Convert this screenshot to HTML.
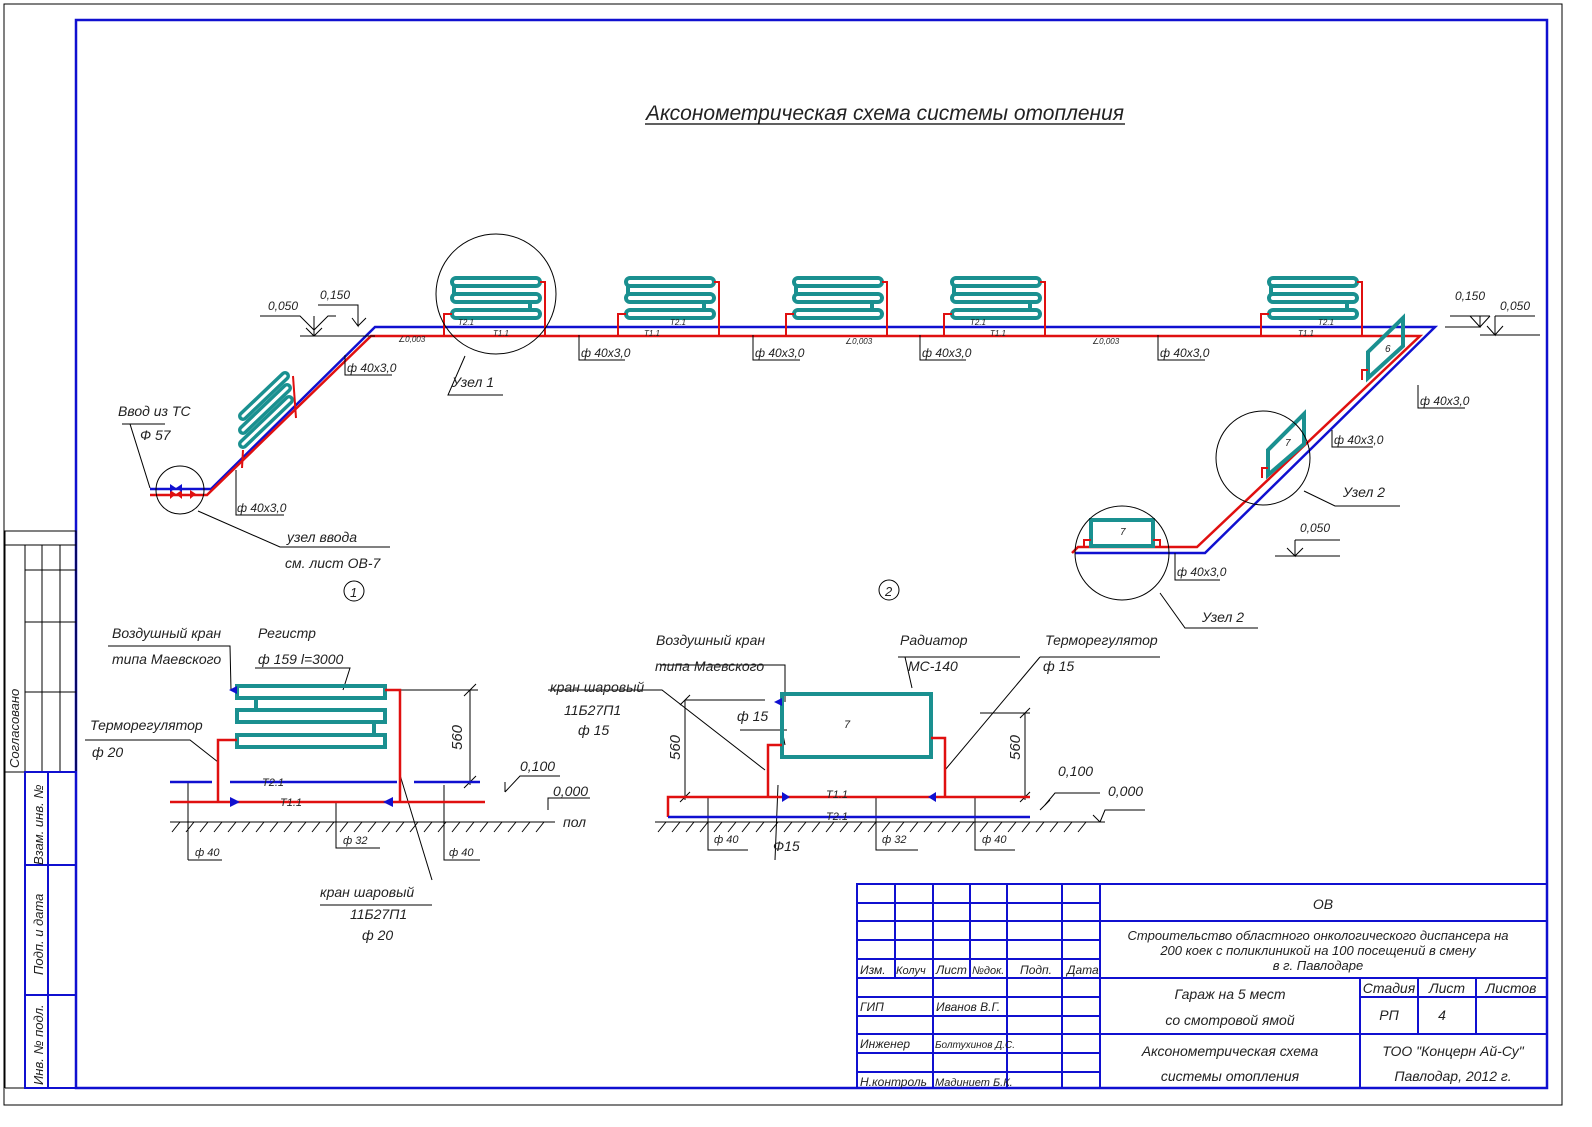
<!DOCTYPE html>
<html><head><meta charset="utf-8"><style>
html,body{margin:0;padding:0;background:#fff}
svg{display:block}
text{font-family:"Liberation Sans","DejaVu Sans",sans-serif;font-style:italic;fill:#222}
</style></head><body>
<svg width="1592" height="1127" viewBox="0 0 1592 1127" xmlns="http://www.w3.org/2000/svg">
<rect x="0" y="0" width="1592" height="1127" fill="#fff"/>
<rect x="4" y="4" width="1558" height="1101" fill="none" stroke="#000" stroke-width="1"/>
<rect x="76" y="20" width="1471" height="1068" fill="none" stroke="#1010d0" stroke-width="2.5"/>
<g stroke="#000" stroke-width="1" fill="none">
<rect x="5" y="531" width="71" height="241"/>
<line x1="25" y1="545" x2="25" y2="772"/><line x1="42" y1="545" x2="42" y2="772"/><line x1="60" y1="545" x2="60" y2="772"/>
<line x1="5" y1="545" x2="76" y2="545"/>
<line x1="25" y1="570" x2="76" y2="570"/><line x1="25" y1="622" x2="76" y2="622"/><line x1="25" y1="692" x2="76" y2="692"/>
<line x1="5" y1="772" x2="5" y2="1088"/><line x1="5" y1="1088" x2="25" y2="1088"/>
</g>
<g stroke="#1010d0" stroke-width="2" fill="none">
<rect x="25" y="772" width="51" height="316"/>
<line x1="48" y1="772" x2="48" y2="1088"/>
<line x1="25" y1="865" x2="76" y2="865"/><line x1="25" y1="995" x2="76" y2="995"/>
</g>
<text transform="translate(19,768) rotate(-90)" font-size="13">Согласовано</text>
<text transform="translate(43,865) rotate(-90)" font-size="13">Взам. инв. №</text>
<text transform="translate(43,975) rotate(-90)" font-size="13">Подп. и дата</text>
<text transform="translate(43,1085) rotate(-90)" font-size="13">Инв. № подл.</text>

<text x="885" y="120" font-size="21" text-anchor="middle" textLength="478" lengthAdjust="spacingAndGlyphs">Аксонометрическая схема системы отопления</text>
<line x1="645" y1="124" x2="1125" y2="124" stroke="#000" stroke-width="1.2"/>

<g fill="none" stroke-width="2.5">
<polyline stroke="#1010d0" points="150,489 211,489 375,327 1435,327 1205,553 1075,553"/>
<polyline stroke="#e01010" points="150,495 207,495 371,336 1420,336 1197,547 1078,547 1072,553"/>
</g>
<g fill="none" stroke="#1a9090" stroke-width="4">
<g id="reg">
<rect x="452" y="278" width="88" height="8" rx="4"/>
<rect x="452" y="294" width="88" height="8" rx="4"/>
<rect x="452" y="310" width="88" height="8" rx="4"/>
<line x1="454" y1="286" x2="454" y2="294"/><line x1="530" y1="302" x2="530" y2="310"/>
</g>
<use href="#reg" x="174"/><use href="#reg" x="342"/><use href="#reg" x="500"/><use href="#reg" x="817"/>
</g>
<g fill="none" stroke="#e01010" stroke-width="2">
<polyline points="540,282 545,282 545,336"/><polyline points="452,314 444,314 444,336"/>
<polyline points="714,282 719,282 719,336"/><polyline points="626,314 618,314 618,336"/>
<polyline points="882,282 887,282 887,336"/><polyline points="794,314 786,314 786,336"/>
<polyline points="1040,282 1045,282 1045,336"/><polyline points="952,314 944,314 944,336"/>
<polyline points="1357,282 1362,282 1362,336"/><polyline points="1269,314 1261,314 1261,336"/>
</g>
<!-- diagonal register left -->
<g fill="none" stroke-linecap="round">
<g stroke="#1a9090" stroke-width="10">
<line x1="243" y1="416" x2="285" y2="376"/><line x1="243" y1="430" x2="287" y2="388"/><line x1="243" y1="444" x2="289" y2="400"/>
</g>
<g stroke="#fff" stroke-width="3">
<line x1="243" y1="416" x2="285" y2="376"/><line x1="243" y1="430" x2="287" y2="388"/><line x1="243" y1="444" x2="289" y2="400"/>
</g>
</g>
<polyline points="293,376 296,418" fill="none" stroke="#e01010" stroke-width="2"/>
<polyline points="243,450 242,468" fill="none" stroke="#e01010" stroke-width="2"/>
<g fill="none" stroke="#1a9090" stroke-width="4">
<polygon points="1368,352 1403,318 1403,346 1368,378"/>
<polygon points="1268,450 1304,414 1304,444 1268,475"/>
<rect x="1091" y="520" width="62" height="26"/>
</g>
<g fill="none" stroke="#e01010" stroke-width="2">
<polyline points="1368,370 1362,370 1362,380"/><polyline points="1268,468 1262,468 1262,478"/>
<polyline points="1091,540 1084,540 1084,547"/><polyline points="1153,540 1160,540 1160,547"/>
</g>
<text x="1385" y="352" font-size="10">6</text><text x="1285" y="446" font-size="10">7</text><text x="1120" y="535" font-size="10">7</text>
<g fill="none" stroke="#000" stroke-width="1">
<circle cx="496" cy="294" r="60"/><circle cx="180" cy="490" r="24"/>
<circle cx="1263" cy="458" r="47"/><circle cx="1122" cy="553" r="47"/>
<circle cx="354" cy="591" r="10"/><circle cx="889" cy="590" r="10"/>
</g>
<text x="350" y="597" font-size="13">1</text><text x="885" y="596" font-size="13">2</text>
<g fill="#e01010"><polygon points="170,490 176,494 170,499"/><polygon points="182,490 176,494 182,499"/><polygon points="190,490 196,494 190,499"/></g>
<g fill="#1010d0"><polygon points="170,484 176,488 170,492"/><polygon points="182,484 176,488 182,492"/></g>

<g fill="none" stroke="#000" stroke-width="1">
<polyline points="260,316 300,316 314,330 328,316 336,316"/>
<line x1="300" y1="336" x2="375" y2="336"/>
<polyline points="318,305 358,305 358,326 352,318 358,326 366,318"/>
<line x1="314" y1="316" x2="314" y2="336"/><line x1="306" y1="328" x2="314" y2="336"/><line x1="322" y1="328" x2="314" y2="336"/>
<polyline points="345,355 345,375 392,375"/>
<polyline points="236,470 236,515 284,515"/>
<polyline points="579,335 579,360 625,360"/><polyline points="753,335 753,360 800,360"/>
<polyline points="920,335 920,360 966,360"/><polyline points="1158,335 1158,360 1205,360"/>
<polyline points="1418,385 1418,408 1465,408"/><polyline points="1332,430 1332,447 1373,447"/>
<polyline points="1175,553 1175,580 1220,580"/>
<polyline points="465,356 448,395 503,395"/>
<polyline points="122,424 165,424"/><polyline points="130,424 150,488"/>
<polyline points="198,511 280,547 390,547"/>
<polyline points="1304,491 1335,506 1400,506"/>
<polyline points="1160,593 1185,628 1258,628"/>
<polyline points="1450,316 1490,316"/><polyline points="1445,327 1480,327 1470,316 1480,327 1490,316"/>
<polyline points="1495,316 1535,316"/><polyline points="1480,335 1540,335"/>
<polyline points="1495,316 1495,335 1487,326 1495,335 1503,326"/>
<polyline points="1480,316 1480,327"/>
<polyline points="1275,556 1340,556"/><polyline points="1295,540 1295,556 1287,548 1295,556 1303,548"/><polyline points="1295,540 1340,540"/>
</g>
<g font-size="12">
<text x="268" y="310">0,050</text><text x="320" y="299">0,150</text>
<text x="347" y="372">ф 40x3,0</text><text x="237" y="512">ф 40x3,0</text>
<text x="581" y="357">ф 40x3,0</text><text x="755" y="357">ф 40x3,0</text>
<text x="922" y="357">ф 40x3,0</text><text x="1160" y="357">ф 40x3,0</text>
<text x="1420" y="405">ф 40x3,0</text><text x="1334" y="444">ф 40x3,0</text>
<text x="1177" y="576">ф 40x3,0</text>
<text x="1455" y="300">0,150</text><text x="1500" y="310">0,050</text>
<text x="1300" y="532">0,050</text>
</g>
<g font-size="14">
<text x="118" y="416">Ввод из ТС</text><text x="140" y="440">Ф 57</text>
<text x="452" y="387">Узел 1</text>
<text x="287" y="542">узел ввода</text><text x="285" y="568">см. лист ОВ-7</text>
<text x="1343" y="497">Узел 2</text><text x="1202" y="622">Узел 2</text>
</g>
<g font-size="8">
<text x="458" y="325">Т2.1</text><text x="493" y="336">Т1.1</text>
<text x="644" y="336">Т1.1</text><text x="670" y="325">Т2.1</text>
<text x="970" y="325">Т2.1</text><text x="990" y="336">Т1.1</text>
<text x="1318" y="325">Т2.1</text><text x="1298" y="336">Т1.1</text>
<text x="398" y="342">∠0,003</text><text x="845" y="344">∠0,003</text><text x="1092" y="344">∠0,003</text>
</g>

<g fill="none" stroke="#000" stroke-width="1">
<line x1="170" y1="822" x2="555" y2="822"/>
<path d="M172,832 l8,-10 M186,832 l8,-10 M200,832 l8,-10 M214,832 l8,-10 M228,832 l8,-10 M242,832 l8,-10 M256,832 l8,-10 M270,832 l8,-10 M284,832 l8,-10 M298,832 l8,-10 M312,832 l8,-10 M326,832 l8,-10 M340,832 l8,-10 M354,832 l8,-10 M368,832 l8,-10 M382,832 l8,-10 M396,832 l8,-10 M410,832 l8,-10 M424,832 l8,-10 M438,832 l8,-10 M452,832 l8,-10 M466,832 l8,-10 M480,832 l8,-10 M494,832 l8,-10 M508,832 l8,-10 M522,832 l8,-10 M536,832 l8,-10"/>
<polyline points="108,646 230,646 231,690"/><polyline points="255,668 350,668 343,690"/>
<polyline points="85,740 190,740 218,762"/>
<polyline points="385,690 478,690"/><line x1="470" y1="690" x2="470" y2="785"/>
<line x1="464" y1="696" x2="476" y2="684"/><line x1="464" y1="788" x2="476" y2="776"/>
<polyline points="505,792 520,776 560,776"/><line x1="505" y1="792" x2="505" y2="782"/>
<polyline points="548,810 548,798 590,798"/>
<line x1="188" y1="782" x2="188" y2="860"/><line x1="188" y1="860" x2="222" y2="860"/>
<polyline points="336,802 336,848 380,848"/><polyline points="444,785 444,860 480,860"/>
<line x1="400" y1="775" x2="432" y2="880"/><line x1="320" y1="905" x2="432" y2="905"/>
</g>
<g fill="none" stroke="#1a9090" stroke-width="4">
<rect x="237" y="686" width="148" height="12"/><rect x="237" y="710" width="148" height="12"/><rect x="237" y="735" width="148" height="12"/>
<line x1="256" y1="698" x2="256" y2="710"/><line x1="374" y1="722" x2="374" y2="735"/>
</g>
<g fill="none" stroke-width="2.5">
<path d="M170,782 H212 M230,782 H397 M414,782 H480" stroke="#1010d0"/>
<path d="M170,802 H485" stroke="#e01010"/>
<polyline stroke="#e01010" points="385,690 400,690 400,802"/>
<polyline stroke="#e01010" points="237,740 218,740 218,802"/>
</g>
<polygon points="230,797 240,802 230,807" fill="#1010d0"/><polygon points="393,797 383,802 393,807" fill="#1010d0"/>
<polygon points="237,686 229,690 237,694" fill="#1010d0"/>
<g font-size="14">
<text x="112" y="638">Воздушный кран</text><text x="112" y="664">типа Маевского</text>
<text x="258" y="638">Регистр</text><text x="258" y="664">ф 159 l=3000</text>
<text x="90" y="730">Терморегулятор</text><text x="92" y="757">ф 20</text>
<text x="520" y="771">0,100</text><text x="553" y="796">0,000</text><text x="563" y="827">пол</text>
<text x="320" y="897">кран шаровый</text><text x="350" y="919">11Б27П1</text><text x="362" y="940">ф 20</text>
<text transform="translate(462,750) rotate(-90)" font-size="15">560</text>
</g>
<g font-size="11"><text x="195" y="856">ф 40</text><text x="343" y="844">ф 32</text><text x="449" y="856">ф 40</text>
<text x="262" y="786">Т2.1</text><text x="280" y="806">Т1.1</text></g>

<g fill="none" stroke="#000" stroke-width="1">
<line x1="655" y1="822" x2="1105" y2="822"/>
<path d="M658,832 l8,-10 M672,832 l8,-10 M686,832 l8,-10 M700,832 l8,-10 M714,832 l8,-10 M728,832 l8,-10 M742,832 l8,-10 M756,832 l8,-10 M770,832 l8,-10 M784,832 l8,-10 M798,832 l8,-10 M812,832 l8,-10 M826,832 l8,-10 M840,832 l8,-10 M854,832 l8,-10 M868,832 l8,-10 M882,832 l8,-10 M896,832 l8,-10 M910,832 l8,-10 M924,832 l8,-10 M938,832 l8,-10 M952,832 l8,-10 M966,832 l8,-10 M980,832 l8,-10 M994,832 l8,-10 M1008,832 l8,-10 M1022,832 l8,-10 M1036,832 l8,-10 M1050,832 l8,-10 M1064,832 l8,-10 M1078,832 l8,-10"/>
<line x1="685" y1="700" x2="685" y2="800"/><line x1="685" y1="700" x2="765" y2="700"/>
<line x1="680" y1="705" x2="690" y2="695"/><line x1="680" y1="802" x2="690" y2="792"/>
<line x1="1025" y1="713" x2="1025" y2="800"/><line x1="980" y1="713" x2="1030" y2="713"/>
<line x1="1020" y1="718" x2="1030" y2="708"/><line x1="1020" y1="802" x2="1030" y2="792"/>
<polyline points="660,665 785,665 785,702"/>
<polyline points="898,657 905,657 912,688"/><line x1="898" y1="657" x2="1020" y2="657"/>
<polyline points="1040,657 1160,657"/><line x1="1040" y1="657" x2="945" y2="770"/>
<polyline points="548,690 662,690 765,770"/><polyline points="740,730 787,730"/><line x1="782" y1="730" x2="785" y2="745"/>
<polyline points="1045,805 1055,793 1100,793"/><line x1="1040" y1="810" x2="1050" y2="800"/>
<polyline points="1100,822 1105,810 1145,810"/><line x1="1100" y1="822" x2="1093" y2="815"/>
<polyline points="708,797 708,850 748,850"/><polyline points="876,797 876,850 918,850"/><polyline points="975,797 975,850 1015,850"/>
<line x1="778" y1="785" x2="775" y2="860"/>
</g>
<rect x="782" y="694" width="149" height="63" fill="none" stroke="#1a9090" stroke-width="4"/>
<text x="844" y="728" font-size="11">7</text>
<g fill="none" stroke-width="2.5">
<polyline stroke="#e01010" points="668,817 668,797 1030,797"/>
<line stroke="#1010d0" x1="668" y1="817" x2="1030" y2="817"/>
<polyline stroke="#e01010" points="782,745 768,745 768,797"/>
<polyline stroke="#e01010" points="931,738 945,738 945,797"/>
</g>
<polygon points="782,792 790,797 782,802" fill="#1010d0"/><polygon points="936,792 928,797 936,802" fill="#1010d0"/>
<polygon points="782,698 774,702 782,706" fill="#1010d0"/>
<g font-size="14">
<text x="656" y="645">Воздушный кран</text><text x="655" y="671">типа Маевского</text>
<text x="550" y="692">кран шаровый</text><text x="564" y="715">11Б27П1</text><text x="578" y="735">ф 15</text>
<text x="737" y="721">ф 15</text>
<text x="900" y="645">Радиатор</text><text x="908" y="671">МС-140</text>
<text x="1045" y="645">Терморегулятор</text><text x="1043" y="671">ф 15</text>
<text x="1058" y="776">0,100</text><text x="1108" y="796">0,000</text>
<text x="773" y="851">Ф15</text>
<text transform="translate(680,760) rotate(-90)" font-size="15">560</text>
<text transform="translate(1020,760) rotate(-90)" font-size="15">560</text>
</g>
<g font-size="11"><text x="714" y="843">ф 40</text><text x="882" y="843">ф 32</text><text x="982" y="843">ф 40</text>
<text x="826" y="798">Т1.1</text><text x="826" y="820">Т2.1</text></g>

<g stroke="#1010d0" stroke-width="2" fill="none">
<rect x="857" y="884" width="690" height="204"/>
<line x1="1100" y1="884" x2="1100" y2="1088"/>
<line x1="895" y1="884" x2="895" y2="978"/><line x1="933" y1="884" x2="933" y2="1088"/>
<line x1="970" y1="884" x2="970" y2="978"/><line x1="1007" y1="884" x2="1007" y2="1088"/>
<line x1="1062" y1="884" x2="1062" y2="1088"/>
<line x1="857" y1="903" x2="1100" y2="903"/><line x1="857" y1="921" x2="1100" y2="921"/>
<line x1="857" y1="940" x2="1100" y2="940"/><line x1="857" y1="959" x2="1100" y2="959"/>
<line x1="857" y1="978" x2="1547" y2="978"/>
<line x1="857" y1="997" x2="1100" y2="997"/><line x1="857" y1="1016" x2="1100" y2="1016"/>
<line x1="857" y1="1034" x2="1547" y2="1034"/><line x1="857" y1="1053" x2="1100" y2="1053"/>
<line x1="857" y1="1072" x2="1100" y2="1072"/>
<line x1="1100" y1="921" x2="1547" y2="921"/>
<line x1="1360" y1="978" x2="1360" y2="1088"/><line x1="1418" y1="978" x2="1418" y2="1034"/><line x1="1476" y1="978" x2="1476" y2="1034"/>
<line x1="1360" y1="997" x2="1547" y2="997"/>
</g>
<g font-size="12">
<text x="860" y="974">Изм.</text><text x="896" y="974" font-size="11">Колуч</text><text x="936" y="974">Лист</text><text x="972" y="974" font-size="11">№док.</text><text x="1020" y="974">Подп.</text><text x="1067" y="974">Дата</text>
<text x="860" y="1011">ГИП</text><text x="936" y="1011">Иванов В.Г.</text>
<text x="860" y="1048">Инженер</text><text x="935" y="1048" font-size="10">Болтухинов Д.С.</text>
<text x="860" y="1086">Н.контроль</text><text x="935" y="1086" font-size="11">Мадиниет Б.К.</text>
</g>
<g font-size="14" text-anchor="middle">
<text x="1323" y="909">ОВ</text>
<text x="1318" y="940" font-size="13">Строительство областного онкологического диспансера на</text>
<text x="1318" y="955" font-size="13">200 коек с поликлиникой на 100 посещений в смену</text>
<text x="1318" y="970" font-size="13">в г. Павлодаре</text>
<text x="1230" y="999">Гараж на 5 мест</text><text x="1230" y="1025">со смотровой ямой</text>
<text x="1230" y="1056">Аксонометрическая схема</text><text x="1230" y="1081">системы отопления</text>
<text x="1389" y="993">Стадия</text><text x="1447" y="993">Лист</text><text x="1511" y="993">Листов</text>
<text x="1389" y="1020">РП</text><text x="1442" y="1020">4</text>
<text x="1453" y="1056">ТОО "Концерн Ай-Су"</text><text x="1453" y="1081">Павлодар, 2012 г.</text>
</g>
</svg>
</body></html>
